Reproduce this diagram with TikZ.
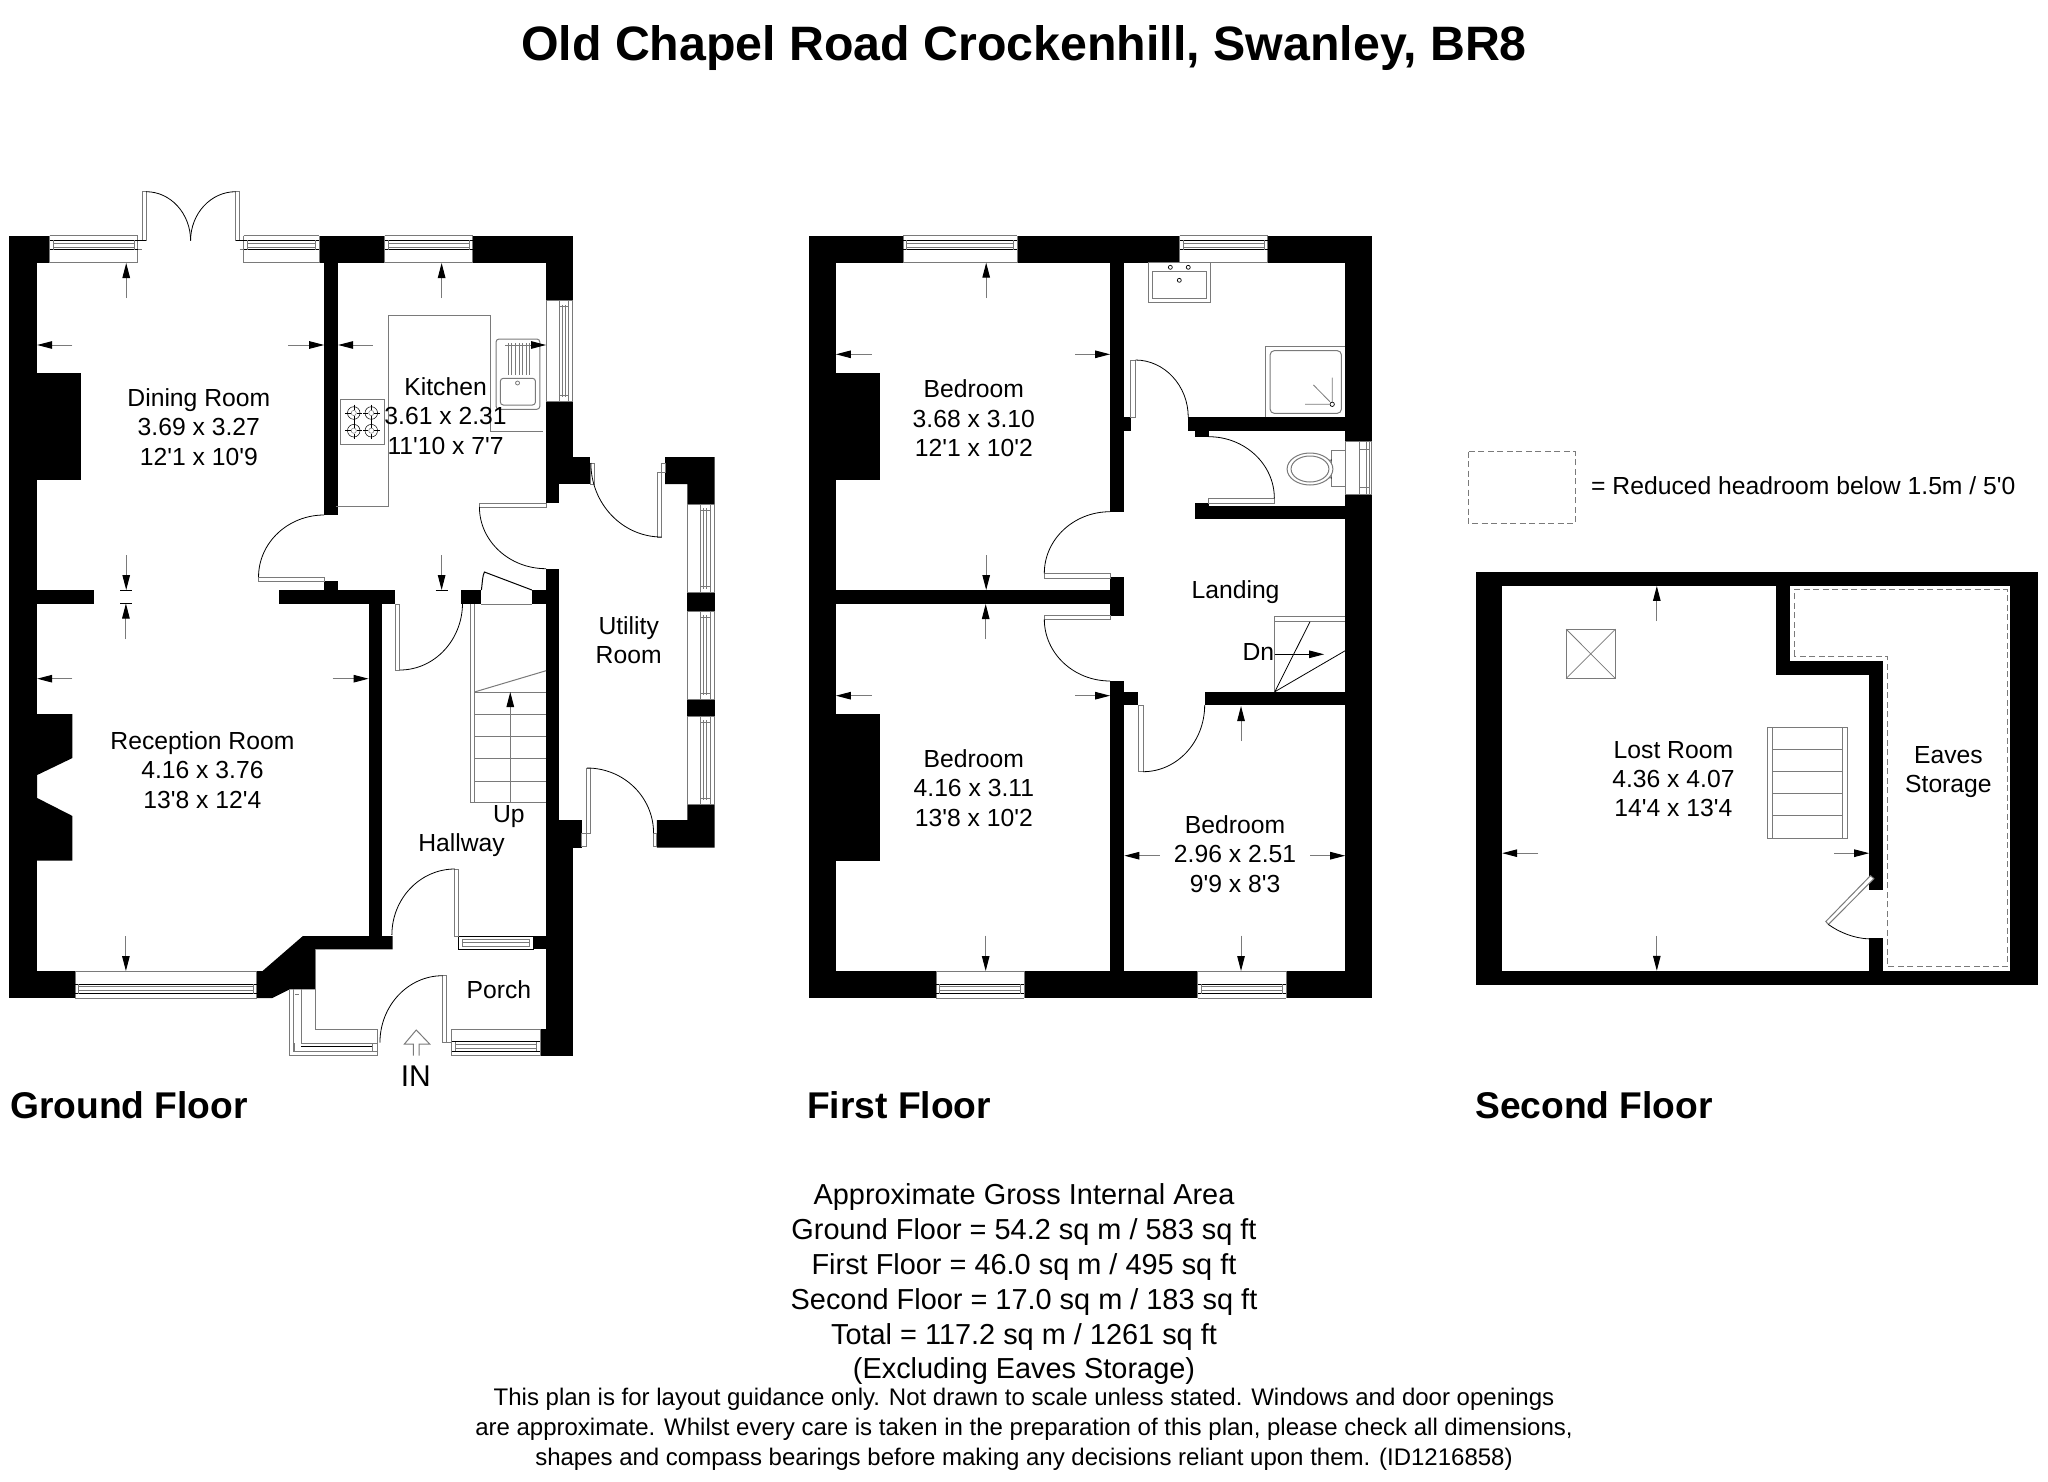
\documentclass[tikz,border=0pt]{standalone}
\usepackage{fontspec}
\usetikzlibrary{arrows.meta,calc}
\newfontfamily\lab{Liberation Sans}
\definecolor{gl}{HTML}{7A7A7A}
\tikzset{
 gline/.style={draw=gl,line width=1pt},
 bline/.style={draw=black,line width=1pt},
 dimline/.style={draw=gl,line width=1pt,-{Triangle[length=15pt,width=7.5pt,color=black]}},
 roomlabel/.style={inner sep=0pt,align=center,font=\lab\fontsize{24.7}{29.4}\selectfont},
 floorlabel/.style={inner sep=0pt,anchor=west,font=\lab\bfseries\fontsize{37.2}{44}\selectfont},
 dashedbox/.style={draw=gl,line width=1pt,dash pattern=on 6pt off 3.5pt},
 leaf/.style={draw=gl,line width=1pt,fill=white}
}
\newcommand{\wallb}[4]{\fill[black] (#1,#2) rectangle (#3,#4);}
\newcommand{\arcq}[3]{\draw[bline,line width=.8pt] (#1) .. controls ($(#1)+0.5523*(#3)-0.5523*(#2)$) and ($(#3)+0.5523*(#1)-0.5523*(#2)$) .. (#3);}
\newcommand{\dm}[2]{\draw[dimline] (#1) -- (#2);}
\newcommand{\hwin}[5]{%
 \fill[white] (#1,#3) rectangle (#2,{#3+#4*#5});
 \draw[gline] (#1,#3) -- (#2,#3);
 \draw[gline] (#1,#3) -- (#1,{#3+#4*#5}) -- (#2,{#3+#4*#5}) -- (#2,#3);
 \draw[bline] (#1,{#3+#4*4.5}) -- (#2,{#3+#4*4.5});
 \draw[bline] (#1,{#3+#4*14}) -- (#2,{#3+#4*14});
 \draw[gline] ({#1+4},{#3+#4*7.5}) -- ({#2-4},{#3+#4*7.5});
 \draw[gline] ({#1+4},{#3+#4*11.5}) -- ({#2-4},{#3+#4*11.5});
 \draw[gline] ({#1+3.5},{#3+#4*4.5}) -- ({#1+3.5},{#3+#4*14});
 \draw[gline] ({#2-3.5},{#3+#4*4.5}) -- ({#2-3.5},{#3+#4*14});
}
\newcommand{\vwin}[5]{%
 \fill[white] (#3,#1) rectangle ({#3+#4*#5},#2);
 \draw[gline] (#3,#1) -- (#3,#2);
 \draw[gline] (#3,#1) -- ({#3+#4*#5},#1) -- ({#3+#4*#5},#2) -- (#3,#2);
 \draw[gline] ({#3+#4*4.5},#1) -- ({#3+#4*4.5},#2);
 \draw[gline] ({#3+#4*14},#1) -- ({#3+#4*14},#2);
 \draw[gline] ({#3+#4*8},{#1+4}) -- ({#3+#4*8},{#2-4});
 \draw[gline] ({#3+#4*11},{#1+4}) -- ({#3+#4*11},{#2-4});
 \draw[gline] ({#3+#4*4.5},{#1+6}) -- ({#3+#4*14},{#1+6});
 \draw[gline] ({#3+#4*4.5},{#2-6}) -- ({#3+#4*14},{#2-6});
}
\begin{document}
\begin{tikzpicture}[x=1pt,y=-1pt]
\useasboundingbox (0,0) rectangle (2048,1482);
\fill[white] (0,0) rectangle (2048,1482);

\node[inner sep=0pt,font=\lab\bfseries\fontsize{48.3}{52}\selectfont] (title) at (1024,48) {Old Chapel Road Crockenhill, Swanley, BR8};

%% ---------- GROUND FLOOR
\begin{scope}[shift={(9.3,0)},xscale=0.995,shift={(-8.5,0)}]
\wallb{8.5}{235.7}{36.5}{998}
\wallb{8.5}{235.7}{49}{262.7}
\wallb{320}{235.7}{385.7}{262.7}
\wallb{474.4}{235.7}{575}{262.7}
\wallb{325}{262}{338.7}{515}
\wallb{548}{235.7}{575}{300.7}
\wallb{548}{401}{575}{457}
\wallb{548}{457}{592.5}{484}
\wallb{548}{484}{561}{502.7}
\wallb{548}{568.7}{561}{820}
\wallb{548}{820}{584}{847.7}
\wallb{548}{847.7}{575}{1055.7}
\wallb{8.5}{590}{94}{604}
\wallb{280}{590}{396}{604}
\wallb{462.5}{590}{483}{604}
\wallb{533.7}{590}{561}{604}
\wallb{325}{581}{338.7}{590}
\wallb{369.6}{603}{383}{936}
\wallb{8.5}{971}{75}{998}
\wallb{8.5}{373}{80.6}{480}
\fill[black] (8.5,714) -- (72,714) -- (72,758) -- (36.5,775) -- (36.5,798) -- (72,816) -- (72,860.7) -- (8.5,860.7) -- cycle;
\fill[black] (257,971) -- (263,971) -- (303.6,936) -- (393.7,936) -- (393.7,949.3) -- (316.4,949.3) -- (316.4,989.3) -- (290.3,989.3) -- (272.8,998) -- (257,998) -- cycle;
\wallb{535}{936}{575}{949.3}
\wallb{542}{1029}{575}{1055.7}
% utility blocks
\fill[black] (667.5,457) -- (717.3,457) -- (717.3,504) -- (690,504) -- (690,484) -- (667.5,484) -- cycle;
\fill[black] (690,804) -- (717.3,804) -- (717.3,847.7) -- (659.4,847.7) -- (659.4,820) -- (690,820) -- cycle;
\wallb{690}{592.7}{717.3}{611}
\wallb{690}{699}{717.3}{716}

%% windows ground
\hwin{49}{137.6}{235.7}{1}{27}
\hwin{244}{320}{235.7}{1}{27}
\hwin{385.7}{474.4}{235.7}{1}{27}
\vwin{300.7}{401}{575}{-1}{27}
\vwin{504}{592.7}{717.3}{-1}{27}
\vwin{611}{699}{717.3}{-1}{27}
\vwin{716}{804}{717.3}{-1}{27}
\hwin{75}{257}{998}{-1}{27}
\hwin{453}{542}{1055.7}{-1}{26}
% hall window
\fill[white] (460,936) rectangle (535,949.3);
\draw[bline] (460,936) rectangle (535,949.3);
\draw[gline] (464,939) rectangle (531,946);
\draw[gline] (464,942.5) -- (531,942.5);
% porch walls lines and left window
\draw[gline] (316.4,949.3) -- (316.4,1029) -- (378.6,1029);
\draw[gline] (290,989.3) -- (290,1055) -- (378.6,1055) -- (378.6,1029);
\draw[gline] (294,989.3) -- (294,1051.7) -- (378.6,1051.7);
\draw[gline] (302,989.3) -- (302,1043) -- (378.6,1043);
\draw[gline] (296,994) -- (300,994);
\draw[gline] (295,1043) -- (295,1051.7);
\draw[bline] (302,1046.5) -- (374,1046.5);
\draw[gline] (374,1043) -- (374,1051.7);
\draw[gline] (453,1029) -- (542,1029);

%% doors ground
% french doors
\draw[leaf] (142,191.7) rectangle (146,240.7);
\draw[leaf] (236,191.7) rectangle (240,240.7);
\arcq{146,191.7}{146,240.7}{190.7,240.7}
\arcq{236,191.7}{236,240.7}{190.7,240.7}
\draw[bline] (137.6,240.7) -- (146,240.7) (236,240.7) -- (244,240.7);
\draw[gline] (137.6,249) -- (142,249) (240,249) -- (244,249);
% dining door
\draw[leaf] (259,577) rectangle (325,581.7);
\arcq{325,515}{325,577}{259,577}
% kitchen hall door
\draw[leaf] (481,503) rectangle (548,507);
\arcq{481,507}{548,507}{548,568.7}
% upper utility door
\draw[leaf] (660,472) rectangle (664,537);
\draw[leaf] (592.5,463) rectangle (597,484);
\draw[leaf] (664,463) rectangle (667.5,472);
\arcq{593,463}{664,463}{664,537}
% lower utility door
\draw[leaf] (589,768) rectangle (593,833);
\draw[leaf] (584,833) rectangle (589,846);
\draw[leaf] (655.5,833) rectangle (659.4,846);
\arcq{589,768}{589,833}{656,833}
% hall door
\draw[leaf] (396.6,604) rectangle (401,670);
\arcq{401,670}{401,603}{464,603}
% cupboard door
\draw[gline] (483,604) -- (533.7,604);
\draw[bline] (483,590) .. controls (484,582) and (484,576) .. (486,572) -- (533.7,590);
% hall/porch doors
\draw[leaf] (456.4,869) rectangle (460,936);
\arcq{456.4,869}{456.4,935}{393,935}
\draw[leaf] (444,975.7) rectangle (448,1042.7);
\arcq{444,975.7}{444,1042.7}{381,1042.7}
\draw[gline] (448,1042.7) -- (453,1042.7);
% stairs ground
\draw[gline] (476,604) -- (476,802.7);
\draw[gline] (472,604) -- (472,802.7) -- (548,802.7);
\foreach \yy in {781,758.7,736,714,692} {\draw[gline] (476,\yy) -- (548,\yy);}
\draw[gline] (476,692) -- (548,670.7);
\draw[dimline] (512,802.7) -- (512,692);
% IN arrow
\draw[gline] (414.5,1055.7) -- (414.5,1044) -- (405.6,1044) -- (417.5,1030) -- (431,1044) -- (420.5,1044) -- (420.5,1055.7);

%% kitchen fixtures
\draw[gline] (336.7,506) -- (390,506) -- (390,315.7) -- (491.7,315.7) -- (491.7,431) -- (545,431);
\draw[gline,fill=white] (341.7,399.3) rectangle (386,444);
\foreach \cx in {354.7,372.3} \foreach \cy in {413,430.7} {
  \draw[bline,line width=.5pt] (\cx,\cy) circle[radius=6.3pt];
  \draw[gline,line width=.5pt] (\cx,\cy) circle[radius=2.6pt];
  \draw[bline,line width=.5pt] ({\cx-8.5},\cy) -- ({\cx-3},\cy) ({\cx+3},\cy) -- ({\cx+8.5},\cy) (\cx,{\cy-8.5}) -- (\cx,{\cy-3}) (\cx,{\cy+3}) -- (\cx,{\cy+8.5});
}
\draw[gline,rounded corners=3pt] (497.7,339) rectangle (541.7,409.3);
\draw[gline,rounded corners=3pt] (502,378.3) rectangle (537.3,405);
\foreach \xx in {510,513.6,517.2,520.8,524.4,528,531.6} {\draw[gline,line width=.8pt] (\xx,343) -- (\xx,375);}
\draw[gline,line width=.8pt] (519.3,383) circle[radius=2pt];

%% dims ground
\dm{126,298}{126,263}
\dm{443,298}{443,263}
\dm{72,345}{36.5,345}
\dm{289,345}{325,345}
\dm{374,345}{339,345}
\dm{507,345}{548,345}
\dm{126,555}{126,590}
\dm{443,555}{443,590}
\draw[bline] (120,590.5) -- (132,590.5) (120,603) -- (132,603) (437,590.5) -- (449,590.5);
\dm{125.7,639}{125.7,603.5}
\dm{72,678.7}{36.5,678.7}
\dm{333.5,678.7}{369.6,678.7}
\dm{125.7,936}{125.7,971}

%% text ground
\node[roomlabel] (dining) at (199,427) {Dining Room\\3.69 x 3.27\\12'1 x 10'9};
\node[roomlabel] (kitchen) at (447,416) {Kitchen\\3.61 x 2.31\\11'10 x 7'7};
\node[roomlabel] (reception) at (202.6,770) {Reception Room\\4.16 x 3.76\\13'8 x 12'4};
\node[roomlabel] (utility) at (631,640) {Utility\\Room};
\node[roomlabel] (up) at (510.5,817) {Up};
\node[roomlabel] (hallway) at (463,845.5) {Hallway};
\node[roomlabel] (porch) at (500.5,990) {Porch};
\node[roomlabel,font=\lab\fontsize{30}{32}\selectfont] (in) at (417,1076) {IN};
\end{scope}

%% ---------- FIRST FLOOR
\begin{scope}[shift={(809,0)},xscale=0.9954,shift={(-809,0)}]
\wallb{809}{235.7}{1374.4}{262.7}
\wallb{809}{235.7}{836}{998}
\wallb{1347.7}{235.7}{1374.4}{998}
\wallb{809}{971}{1374.4}{998}
\wallb{809}{373.3}{880.8}{480}
\wallb{809}{714}{880.8}{860.7}
\wallb{1111.5}{262.7}{1125.8}{511.7}
\wallb{1111.5}{417.3}{1132.3}{431.3}
\wallb{1190}{417.3}{1374.4}{431.3}
\wallb{1196.5}{431}{1210.4}{436.7}
\wallb{1196.5}{503}{1210.4}{507}
\wallb{1196.5}{506}{1374.4}{519.3}
\wallb{809}{590}{1125.8}{604}
\wallb{1111.5}{577.3}{1125.8}{615.7}
\wallb{1111.5}{681}{1125.8}{971}
\wallb{1111.5}{691.7}{1140}{705}
\wallb{1206.5}{691.7}{1374.4}{705}
\hwin{903.5}{1018}{235.7}{1}{27}
\hwin{1181.5}{1269.6}{235.7}{1}{27}
\hwin{937}{1025.4}{998}{-1}{27}
\hwin{1199.6}{1288.5}{998}{-1}{27}
% WC window
\fill[white] (1347.7,441.7) rectangle (1374.4,494);
\draw[gline] (1347.7,441.7) rectangle (1374.4,494);
\draw[gline] (1362,441.7) -- (1362,494) (1369,441.7) -- (1369,494) (1372.5,441.7) -- (1372.5,494);
\draw[gline] (1362,449) -- (1372.5,449) (1362,487) -- (1372.5,487);
% doors first
\draw[leaf] (1132.3,360) rectangle (1137,417.3);
\arcq{1137,360}{1137,417}{1190,417.3}
\draw[leaf] (1210.4,498.3) rectangle (1276.5,503.3);
\arcq{1210.4,436.7}{1210.4,498.3}{1276.5,498.3}
\draw[leaf] (1045.4,573.3) rectangle (1112.3,578.3);
\arcq{1111.5,511.7}{1111.5,573.3}{1045.4,573.3}
\draw[leaf] (1045.4,615) rectangle (1112.3,619.3);
\arcq{1045.4,619.3}{1111.5,619.3}{1111.5,681}
\draw[leaf] (1140,705) rectangle (1144.6,771.7);
\arcq{1144.6,771.7}{1144.6,705}{1206.5,705}
% stairs first
\draw[gline] (1277,691.7) -- (1277,616.7) -- (1347.7,616.7);
\draw[gline] (1277,621.7) -- (1347.7,621.7);
\draw[bline,line width=.8pt] (1277,691.7) -- (1312.3,621.7);
\draw[bline,line width=.8pt] (1277,691.7) -- (1347.7,650.7);
\draw[dimline,draw=black] (1277,654.3) -- (1326.5,654.3);
% bath fixtures
\draw[gline] (1149.6,262.7) rectangle (1212.3,302.3);
\draw[gline] (1154.2,271.7) rectangle (1208,298.3);
\draw[bline,line width=.7pt] (1172,267.3) circle[radius=2pt] (1190,267.3) circle[radius=2pt] (1181,280.3) circle[radius=2pt];
\draw[gline] (1268,417.3) -- (1268,346.7) -- (1347.7,346.7);
\draw[gline,rounded corners=4pt] (1272.3,350.7) rectangle (1343.8,413.3);
\draw[bline,line width=.7pt] (1334.6,404.3) circle[radius=2.2pt];
\draw[gline,line width=.8pt] (1334.6,377.7) -- (1334.6,402) (1307.3,404.3) -- (1332,404.3) (1315.8,385) -- (1332.3,401.7);
% toilet
\draw[gline,fill=white] (1334.2,450.7) rectangle (1347.7,486.7);
\draw[bline,line width=.7pt] (1334.2,460) -- (1325,461) (1334.2,478) -- (1325,477);
\draw[gline,fill=white] (1312.3,469) ellipse[x radius=23pt,y radius=16pt];
\draw[gline] (1312.3,469) ellipse[x radius=19pt,y radius=13pt];
%dims first
\dm{987,298}{987,262.7}
\dm{872,354.3}{836,354.3}
\dm{1076.5,354.3}{1111.5,354.3}
\dm{987,555}{987,590}
\dm{986.5,639}{986.5,604}
\dm{872,695.7}{836,695.7}
\dm{1076.5,695.7}{1111.5,695.7}
\dm{986.5,935.7}{986.5,971}
\dm{1243,935.7}{1243,971}
\dm{1243,741}{1243,706}
\dm{1161.5,855.7}{1125.8,855.7}
\dm{1312.3,855.7}{1347.7,855.7}
% text first
\node[roomlabel] (bed1) at (974.6,418.5) {Bedroom\\3.68 x 3.10\\12'1 x 10'2};
\node[roomlabel] (bed2) at (974.6,788) {Bedroom\\4.16 x 3.11\\13'8 x 10'2};
\node[roomlabel] (bed3) at (1237,854) {Bedroom\\2.96 x 2.51\\9'9 x 8'3};
\node[roomlabel] (landing) at (1237.5,592.6) {Landing};
\node[roomlabel] (dn) at (1260.5,652) {Dn};
\end{scope}

%% ---------- SECOND FLOOR
\draw[dashedbox] (1468,451.5) rectangle (1575,523.5);
\node[inner sep=0pt,anchor=west,font=\lab\fontsize{24.7}{29}\selectfont] (legend) at (1591,485.8) {= Reduced headroom below 1.5m / 5'0};
\begin{scope}[shift={(1476,572)},yscale=0.9957,shift={(-1476.6,-573)}]
\wallb{1476.6}{573}{2039}{587}
\wallb{1476.6}{973.5}{2039}{987.3}
\wallb{1476.6}{573}{1502.8}{987.3}
\wallb{2011}{573}{2039}{987.3}
\wallb{1776.8}{587}{1790.8}{676}
\wallb{1776.8}{662.3}{1883.8}{676}
\wallb{1869.8}{662.3}{1883.8}{892.3}
\wallb{1869.8}{940.8}{1883.8}{973.5}
\draw[dashedbox] (1794.7,657.7) -- (1794.7,591) -- (2007.8,591) -- (2007.8,969.6) -- (1887.7,969.6) -- (1887.7,657.7) -- cycle;
\draw[gline] (1566.7,630.4) rectangle (1616,680);
\draw[gline,line width=.8pt] (1566.7,630.4) -- (1616,680) (1616,630.4) -- (1566.7,680);
\draw[gline] (1768.3,728.8) rectangle (1848,840.4);
\draw[gline] (1773,728.8) -- (1773,840.4) (1843,728.8) -- (1843,840.4);
\foreach \yy in {751,773.5,795.8,818} {\draw[gline] (1773,\yy) -- (1843,\yy);}
\draw[leaf] (1826.4,924) -- (1871,878) -- (1874.5,881) -- (1829,927) -- cycle;
\draw[bline,line width=.8pt] (1829,927) .. controls (1840,935) and (1855,941) .. (1869.8,941.5);
\dm{1657.4,622.3}{1657.4,587}
\dm{1657.4,938.5}{1657.4,973.5}
\dm{1538.8,855.4}{1502.8,855.4}
\dm{1834.6,855.4}{1869.8,855.4}
\node[roomlabel] (lost) at (1674,781) {Lost Room\\4.36 x 4.07\\14'4 x 13'4};
\node[roomlabel] (eaves) at (1949,774) {Eaves\\Storage};
\end{scope}

%% ---------- FLOOR LABELS
\node[floorlabel] (gf) at (10,1105) {Ground Floor};
\node[floorlabel] (ff) at (807,1105) {First Floor};
\node[floorlabel] (sf) at (1475,1105) {Second Floor};

%% ---------- AREA TEXT
\node[inner sep=0pt,align=center,font=\lab\fontsize{28.9}{34.8}\selectfont] (area) at (1024,1284.5) {Approximate Gross Internal Area\\Ground Floor = 54.2 sq m / 583 sq ft\\First Floor = 46.0 sq m / 495 sq ft\\Second Floor = 17.0 sq m / 183 sq ft\\Total = 117.2 sq m / 1261 sq ft\\(Excluding Eaves Storage)};
\node[inner sep=0pt,align=center,font=\lab\fontsize{24}{30}\selectfont] (note) at (1024,1429) {This plan is for layout guidance only. Not drawn to scale unless stated. Windows and door openings\\are approximate. Whilst every care is taken in the preparation of this plan, please check all dimensions,\\shapes and compass bearings before making any decisions reliant upon them. (ID1216858)};
\end{tikzpicture}
\end{document}
